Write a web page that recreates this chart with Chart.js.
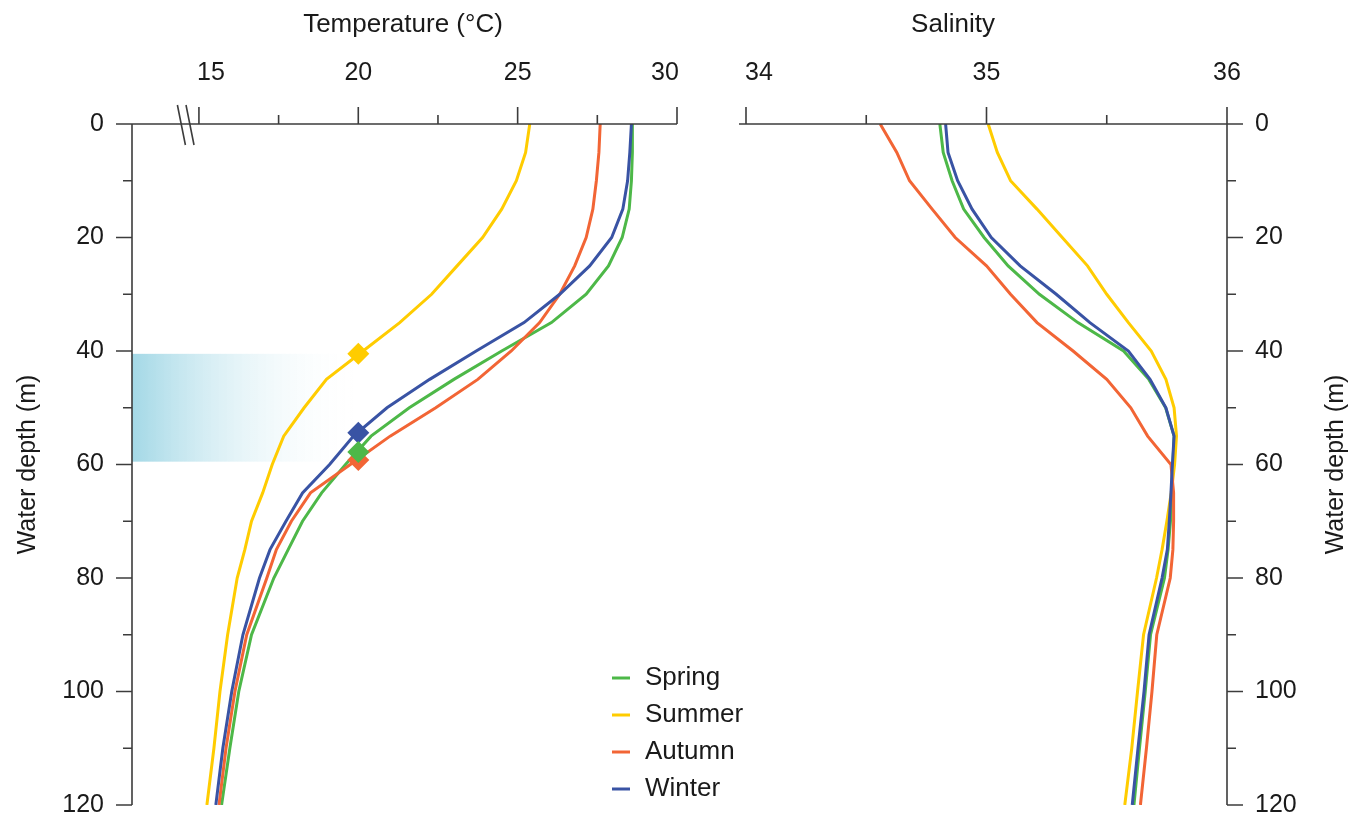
<!DOCTYPE html>
<html>
<head>
<meta charset="utf-8">
<script src="https://cdn.jsdelivr.net/npm/chart.js@4.4.1/dist/chart.umd.min.js"></script>
<style>
  html, body { margin: 0; padding: 0; background: #fff; }
  #wrap { position: relative; width: 1362px; height: 819px; }
  #wrap canvas { position: absolute; left: 0; top: 0; }
</style>
</head>
<body>
<div id="wrap">
  <canvas id="tempChart" width="1362" height="819"></canvas>
  <canvas id="salChart" width="1362" height="819"></canvas>
</div>
<script>
// depth levels (m), shared by all profiles
const depths = [0, 5, 10, 15, 20, 25, 30, 35, 40, 45, 50, 55, 60, 65, 70, 75, 80, 90, 100, 110, 120];

// temperature profiles (°C)
const tempSpring = [28.6, 28.6, 28.57, 28.5, 28.28, 27.85, 27.15, 26.06, 24.5, 23.0, 21.6, 20.4, 19.6, 18.85, 18.25, 17.8, 17.35, 16.65, 16.25, 15.97, 15.71];
const tempSummer = [25.38, 25.25, 24.96, 24.5, 23.9, 23.1, 22.3, 21.3, 20.15, 19.0, 18.3, 17.66, 17.3, 17.0, 16.65, 16.44, 16.2, 15.9, 15.66, 15.47, 15.25];
const tempAutumn = [27.59, 27.55, 27.47, 27.36, 27.15, 26.79, 26.32, 25.69, 24.8, 23.75, 22.43, 21.0, 19.75, 18.5, 17.9, 17.43, 17.13, 16.5, 16.13, 15.85, 15.63];
const tempWinter = [28.57, 28.52, 28.45, 28.3, 27.95, 27.26, 26.32, 25.2, 23.7, 22.24, 20.9, 19.85, 19.1, 18.25, 17.73, 17.23, 16.9, 16.38, 16.03, 15.75, 15.53];

// salinity profiles
const salSpring = [34.806, 34.82, 34.857, 34.905, 34.99, 35.09, 35.22, 35.38, 35.57, 35.675, 35.745, 35.78, 35.775, 35.77, 35.765, 35.755, 35.74, 35.682, 35.66, 35.636, 35.613];
const salSummer = [35.007, 35.045, 35.1, 35.21, 35.315, 35.42, 35.5, 35.59, 35.685, 35.746, 35.78, 35.79, 35.782, 35.768, 35.75, 35.73, 35.707, 35.653, 35.628, 35.604, 35.575];
const salAutumn = [34.558, 34.627, 34.68, 34.774, 34.87, 35.0, 35.1, 35.21, 35.36, 35.5, 35.6, 35.67, 35.767, 35.778, 35.778, 35.775, 35.764, 35.708, 35.688, 35.665, 35.64];
const salWinter = [34.83, 34.84, 34.88, 34.94, 35.02, 35.14, 35.29, 35.43, 35.59, 35.68, 35.746, 35.78, 35.773, 35.767, 35.76, 35.752, 35.73, 35.676, 35.655, 35.63, 35.606];

// 20 °C crossing depth per season (diamonds) and the shaded band
const seasons = ['Spring', 'Summer', 'Autumn', 'Winter'];
const markerTemp = 20;
const markerDepths = [57.8, 40.5, 59.2, 54.4];
const bandDepths = [40.5, 59.5];

// axis ticks
const depthTicks = [0, 20, 40, 60, 80, 100, 120];
const depthMinor = [10, 30, 50, 70, 90, 110];
const tempTicks = [15, 20, 25, 30];
const tempMinor = [17.5, 22.5, 27.5];
const salTicks = [34, 35, 36];
const salMinor = [34.5, 35.5];

const colors = ['#4db848', '#ffcc00', '#f26535', '#3953a4'];
const FONT = '"Liberation Sans", Arial, sans-serif';

function profile(xs) {
    return depths.map((d, i) => ({ x: xs[i], y: d }));
}

function lineSets(profiles) {
    return profiles.map((p, i) => ({
        label: seasons[i],
        data: profile(p),
        borderColor: colors[i],
        backgroundColor: colors[i],
        borderWidth: 3,
        pointRadius: 0,
        tension: 0,
        fill: false,
        order: 4 - i
    }));
}

// draws the axis lines, tick marks and labels from the chart's scales
function axesPlugin(cfg) {
    return {
        id: 'axes_' + cfg.name,
        beforeDatasetsDraw(chart) {
            if (!cfg.band) return;
            const { ctx, chartArea: a, scales: { x, y } } = chart;
            const x1 = x.getPixelForValue(markerTemp);
            const y0 = y.getPixelForValue(bandDepths[0]);
            const y1 = y.getPixelForValue(bandDepths[1]);
            const g = ctx.createLinearGradient(a.left, 0, x1, 0);
            g.addColorStop(0, 'rgba(163,216,230,1)');
            g.addColorStop(1, 'rgba(255,255,255,0)');
            ctx.save();
            ctx.fillStyle = g;
            ctx.fillRect(a.left, y0, x1 - a.left, y1 - y0);
            ctx.restore();
        },
        afterDraw(chart) {
            const { ctx, chartArea: a, scales: { x, y } } = chart;
            const axisX = cfg.ySide === 'left' ? a.left : a.right;
            const dir = cfg.ySide === 'left' ? -1 : 1;
            ctx.save();
            ctx.strokeStyle = '#3c3c3c';
            ctx.lineWidth = 1.6;
            ctx.beginPath();
            ctx.moveTo(a.left - cfg.extL, a.top);
            ctx.lineTo(a.right + cfg.extR, a.top);
            ctx.moveTo(axisX, a.top);
            ctx.lineTo(axisX, a.bottom);
            cfg.xTicks.forEach(v => {
                const px = x.getPixelForValue(v);
                ctx.moveTo(px, a.top); ctx.lineTo(px, a.top - 17);
            });
            cfg.xMinor.forEach(v => {
                const px = x.getPixelForValue(v);
                ctx.moveTo(px, a.top); ctx.lineTo(px, a.top - 9);
            });
            depthTicks.forEach(v => {
                const py = y.getPixelForValue(v);
                ctx.moveTo(axisX, py); ctx.lineTo(axisX + dir * 16, py);
            });
            depthMinor.forEach(v => {
                const py = y.getPixelForValue(v);
                ctx.moveTo(axisX, py); ctx.lineTo(axisX + dir * 9, py);
            });
            ctx.stroke();

            // axis break on the temperature axis
            if (cfg.brk) {
                ctx.beginPath();
                cfg.brk.forEach(v => {
                    const px = x.getPixelForValue(v);
                    ctx.moveTo(px - 4, a.top - 19);
                    ctx.lineTo(px + 4, a.top + 21);
                });
                ctx.stroke();
            }

            ctx.fillStyle = '#1a1a1a';
            ctx.font = '25px ' + FONT;
            ctx.textBaseline = 'middle';
            ctx.textAlign = 'center';
            cfg.xTicks.forEach((v, i) => {
                ctx.fillText(String(v), x.getPixelForValue(v) + cfg.shift[i], 73);
            });

            ctx.textAlign = cfg.ySide === 'left' ? 'right' : 'left';
            depthTicks.forEach(v => {
                ctx.fillText(String(v), axisX + dir * 28, y.getPixelForValue(v));
            });

            ctx.font = '26px ' + FONT;
            ctx.textAlign = 'center';
            ctx.fillText(cfg.xTitle, cfg.titleX, 25);

            ctx.save();
            ctx.font = '25px ' + FONT;
            ctx.translate(cfg.yTitleX, (a.top + a.bottom) / 2);
            ctx.rotate(-Math.PI / 2);
            ctx.fillText('Water depth (m)', 0, 0);
            ctx.restore();

            if (cfg.legend) {
                seasons.forEach((s, i) => {
                    const ly = 678 + i * 37;
                    ctx.strokeStyle = colors[i];
                    ctx.lineWidth = 3;
                    ctx.beginPath();
                    ctx.moveTo(612, ly); ctx.lineTo(630, ly);
                    ctx.stroke();
                    ctx.textAlign = 'left';
                    ctx.font = '26px ' + FONT;
                    ctx.fillText(s, 645, ly);
                });
            }
            ctx.restore();
        }
    };
}

function baseOptions(xMin, xMax, pad) {
    return {
        responsive: false,
        animation: false,
        layout: { padding: pad },
        plugins: { legend: { display: false }, tooltip: { enabled: false } },
        scales: {
            x: { type: 'linear', min: xMin, max: xMax, display: false },
            y: { type: 'linear', min: 0, max: 120, reverse: true, display: false }
        }
    };
}

const tempMarkers = seasons.map((s, i) => ({
    label: s + ' 20 °C',
    data: [{ x: markerTemp, y: markerDepths[i] }],
    showLine: false,
    pointStyle: 'rectRot',
    pointRadius: 11,
    pointBorderWidth: 0,
    backgroundColor: colors[i],
    borderColor: colors[i],
    order: 0
}));

new Chart(document.getElementById('tempChart'), {
    type: 'line',
    data: { datasets: lineSets([tempSpring, tempSummer, tempAutumn, tempWinter]).concat(tempMarkers) },
    options: baseOptions(12.9, 30, { left: 132, top: 124, right: 685, bottom: 14 }),
    plugins: [axesPlugin({
        name: 'temp', ySide: 'left', extL: 16, extR: 0,
        xTicks: tempTicks, xMinor: tempMinor, shift: [12, 0, 0, -12],
        xTitle: 'Temperature (°C)', titleX: 403, yTitleX: 28,
        brk: [14.45, 14.72], band: true, legend: true
    })]
});

new Chart(document.getElementById('salChart'), {
    type: 'line',
    data: { datasets: lineSets([salSpring, salSummer, salAutumn, salWinter]) },
    options: baseOptions(34, 36, { left: 746, top: 124, right: 135, bottom: 14 }),
    plugins: [axesPlugin({
        name: 'sal', ySide: 'right', extL: 7, extR: 16,
        xTicks: salTicks, xMinor: salMinor, shift: [13, 0, 0],
        xTitle: 'Salinity', titleX: 953, yTitleX: 1336,
        brk: null, band: false, legend: false
    })]
});
</script>
</body>
</html>
